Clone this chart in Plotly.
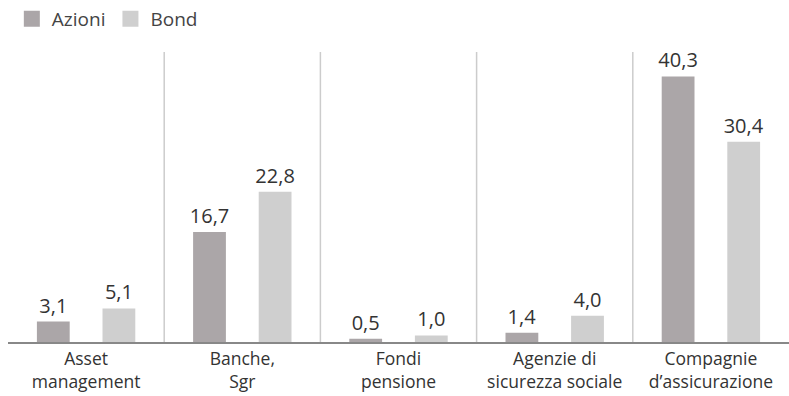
import plotly.graph_objects as go

categories = ["Asset<br>management", "Banche,<br>Sgr", "Fondi<br>pensione",
              "Agenzie di<br>sicurezza sociale", "Compagnie<br>d’assicurazione"]
azioni = [3.1, 16.7, 0.5, 1.4, 40.3]
bond = [5.1, 22.8, 1.0, 4.0, 30.4]
series_names = ["Azioni", "Bond"]
colors = ["#aba6a8", "#cfcfcf"]

def fmt(v):
    return f"{v:.1f}".replace(".", ",")

FONT = "'Open Sans', Lato, sans-serif"
fig = go.Figure()
for name, vals, col in zip(series_names, [azioni, bond], colors):
    fig.add_trace(go.Bar(
        x=categories, y=vals, name=name, marker=dict(color=col, line=dict(width=0)),
        text=[fmt(v) for v in vals], textposition="outside", cliponaxis=False,
        constraintext="none",
        textfont=dict(size=20, color="#333333", family=FONT),
        showlegend=False, legendgroup=name,
    ))
    fig.add_trace(go.Scatter(
        x=[None], y=[None], mode="markers", name=name, legendgroup=name,
        marker=dict(symbol="square", size=16, color=col), showlegend=True,
    ))

for i in range(len(categories) - 1):
    fig.add_shape(type="line", xref="x", yref="y domain", x0=i + 0.5, x1=i + 0.5,
                  y0=0, y1=1, line=dict(color="#cccccc", width=1.5), layer="below")

fig.update_layout(
    width=789, height=396,
    margin=dict(l=8, r=0, t=52, b=54),
    paper_bgcolor="white", plot_bgcolor="white",
    barmode="group", bargap=0.16, bargroupgap=0.5,
    font=dict(family=FONT, color="#333333"),
    showlegend=True,
    legend=dict(orientation="h", x=0.015, xref="container", y=1.0, yref="container",
                xanchor="left", yanchor="top", font=dict(size=19, color="#444444"),
                itemsizing="trace", tracegroupgap=0, itemwidth=30,
                bgcolor="rgba(0,0,0,0)"),
    xaxis=dict(showline=True, linecolor="#888888", linewidth=1.5, ticks="",
               tickfont=dict(size=17.5, color="#333333", family=FONT),
               showgrid=False, range=[-0.5, 4.5], fixedrange=True),
    yaxis=dict(range=[0, 44], showticklabels=False, showgrid=False, zeroline=False,
               ticks="", fixedrange=True),
)

fig.write_html("out.html")
